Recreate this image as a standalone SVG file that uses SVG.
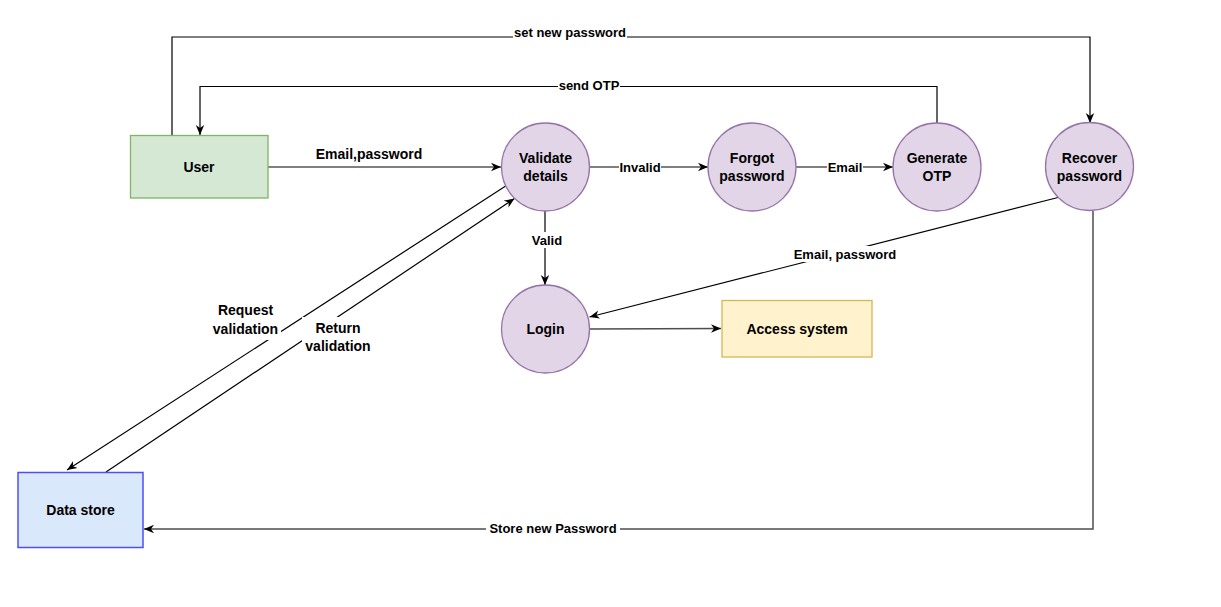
<svg xmlns="http://www.w3.org/2000/svg" width="1221" height="607" viewBox="0 0 1221 607">
<style>
text{font-family:"Liberation Sans",Arial,Helvetica,sans-serif;font-weight:bold;fill:#000;text-anchor:middle}
.n{font-size:14px}
.l{font-size:13px}
.big{font-size:14px}
.proc{fill:#e1d5e7;stroke:#9673a6;stroke-width:1.3}
.edge{fill:none;stroke:#000;stroke-width:1.2}
.gedge{fill:none;stroke:#4d4d4d;stroke-width:1.5}
.bg{fill:#fff}
</style>
<defs>
<marker id="arr" viewBox="0 0 10 10" refX="10" refY="5" markerWidth="10" markerHeight="10" markerUnits="userSpaceOnUse" orient="auto">
<path d="M0,0.8 L10,5 L0,9.2 L3,5 z" fill="#000"/>
</marker>
</defs>
<rect width="1221" height="607" fill="#fff"/>

<g id="connectors">
<g id="e-user-validate">
<path class="edge" d="M268,167 L501,167" marker-end="url(#arr)"/>
<text class="big" x="369" y="159">Email,password</text>
</g>
<g id="e-set-new-password">
<path class="edge" d="M172,135 L172,37 L1090,37 L1090,123" marker-end="url(#arr)"/>
<rect class="bg" x="513" y="25" width="114" height="15"/>
<text class="l" x="570" y="37">set new password</text>
</g>
<g id="e-send-otp">
<path class="edge" d="M937,123 L937,86.5 L200,86.5 L200,135" marker-end="url(#arr)"/>
<rect class="bg" x="558" y="77" width="62" height="15"/>
<text class="l" x="589" y="89.5">send OTP</text>
</g>
<g id="e-invalid">
<path class="edge" d="M589,167 L708,167" marker-end="url(#arr)"/>
<rect class="bg" x="619" y="159" width="42" height="16"/>
<text class="l" x="640" y="171.5">Invalid</text>
</g>
<g id="e-email">
<path class="edge" d="M796,167 L893,167" marker-end="url(#arr)"/>
<rect class="bg" x="827" y="159" width="36" height="16"/>
<text class="l" x="845" y="171.5">Email</text>
</g>
<g id="e-valid">
<path class="edge" d="M545,211 L545,285" marker-end="url(#arr)"/>
<rect class="bg" x="530" y="232" width="34" height="16"/>
<text class="l" x="547" y="244.5">Valid</text>
</g>
<g id="e-recover-login">
<path class="edge" d="M1058,197.5 L589.5,317" marker-end="url(#arr)"/>
<rect class="bg" x="792" y="246" width="106" height="16"/>
<text class="l" x="845" y="258.5">Email, password</text>
</g>
<g id="e-login-access">
<path class="gedge" d="M589,329 L721,328.5" marker-end="url(#arr)"/>
</g>
<g id="e-request">
<path class="edge" d="M508,184.5 L67,470" marker-end="url(#arr)"/>
<rect class="bg" x="210" y="301" width="71" height="39"/>
<text class="big" x="245.5" y="315">Request</text>
<text class="big" x="245.5" y="334">validation</text>
</g>
<g id="e-return">
<path class="edge" d="M106,472 L514.5,198.5" marker-end="url(#arr)"/>
<rect class="bg" x="302" y="317" width="72" height="38"/>
<text class="big" x="338" y="332.5">Return</text>
<text class="big" x="338" y="350.5">validation</text>
</g>
<g id="e-store">
<path class="gedge" d="M1093,211 L1093,529 L144,529" marker-end="url(#arr)"/>
<rect class="bg" x="486" y="520" width="134" height="16"/>
<text class="l" x="553" y="532.5">Store new Password</text>
</g>
</g>

<g id="user">
<rect x="130.5" y="135.5" width="137.5" height="62.5" fill="#d5e8d4" stroke="#82b366" stroke-width="1.3"/>
<text class="n" x="199" y="172">User</text>
</g>
<g id="validate">
<circle class="proc" cx="545.5" cy="167" r="44"/>
<text class="n" x="545.5" y="162.5">Validate</text>
<text class="n" x="545.5" y="180.5">details</text>
</g>
<g id="forgot">
<circle class="proc" cx="752" cy="167" r="44"/>
<text class="n" x="752" y="162.5">Forgot</text>
<text class="n" x="752" y="180.5">password</text>
</g>
<g id="generate">
<circle class="proc" cx="937" cy="167" r="44"/>
<text class="n" x="937" y="162.5">Generate</text>
<text class="n" x="937" y="180.5">OTP</text>
</g>
<g id="recover">
<circle class="proc" cx="1089.5" cy="166.5" r="44"/>
<text class="n" x="1089.5" y="162.5">Recover</text>
<text class="n" x="1089.5" y="180.5">password</text>
</g>
<g id="login">
<circle class="proc" cx="545.5" cy="329" r="44"/>
<text class="n" x="545.5" y="334">Login</text>
</g>
<g id="access">
<rect x="722" y="300.5" width="150" height="56.5" fill="#fff2cc" stroke="#d6b656" stroke-width="1.3"/>
<text class="n" x="797" y="334">Access system</text>
</g>
<g id="datastore">
<rect x="18" y="472.5" width="125" height="75" fill="#dae8fc" stroke="#4d4dff" stroke-width="1.5"/>
<text class="n" x="80.5" y="515">Data store</text>
</g>
</svg>
